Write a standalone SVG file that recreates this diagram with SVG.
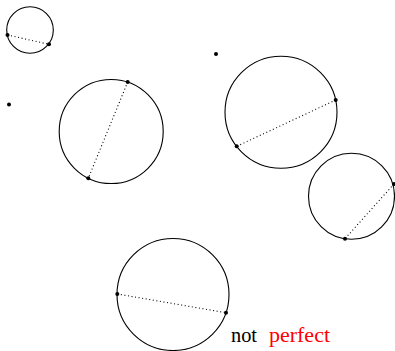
<svg xmlns="http://www.w3.org/2000/svg" width="395" height="351" viewBox="0 0 395 351">
<style>
.c{fill:none;stroke:#000;stroke-width:1.1}
.d{stroke:#000;stroke-width:1.1;stroke-dasharray:1 2.6}
.p{fill:#000}
.t{font-family:'Liberation Serif','DejaVu Serif',serif;font-size:21px}
</style>
<rect width="395" height="351" fill="#fff"/>
<g id="connectors">
<line class="d" x1="7.5" y1="35" x2="49" y2="44.3"/>
<line class="d" x1="127.7" y1="82" x2="88.3" y2="178.3"/>
<line class="d" x1="335.7" y1="100" x2="236.7" y2="146.3"/>
<line class="d" x1="394" y1="184" x2="345" y2="238.7"/>
<line class="d" x1="117.3" y1="294" x2="226" y2="312.7"/>
</g>
<g id="circle1"><circle class="c" cx="30" cy="30" r="23.3"/><circle class="p" cx="7.5" cy="35" r="2"/><circle class="p" cx="49" cy="44.3" r="2"/></g>
<g id="circle2"><circle class="c" cx="111.2" cy="131.5" r="52"/><circle class="p" cx="127.7" cy="82" r="2"/><circle class="p" cx="88.3" cy="178.3" r="2"/></g>
<g id="circle3"><circle class="c" cx="281" cy="112.3" r="56"/><circle class="p" cx="335.7" cy="100" r="2"/><circle class="p" cx="236.7" cy="146.3" r="2"/></g>
<g id="circle4"><circle class="c" cx="351.5" cy="196.3" r="43"/><circle class="p" cx="394" cy="184" r="2"/><circle class="p" cx="345" cy="238.7" r="2"/></g>
<g id="circle5"><circle class="c" cx="173" cy="294.5" r="56"/><circle class="p" cx="117.3" cy="294" r="2"/><circle class="p" cx="226" cy="312.7" r="2"/></g>
<g id="dot1"><circle class="p" cx="216" cy="54" r="2"/></g>
<g id="dot2"><circle class="p" cx="9" cy="104.5" r="2"/></g>
<g id="label">
<text class="t" font-family="Liberation Serif, serif" x="231" y="341.7" fill="#000" textLength="26" lengthAdjust="spacingAndGlyphs">not</text>
<text class="t" font-family="Liberation Serif, serif" x="269" y="341.7" fill="#ff0000" textLength="61" lengthAdjust="spacingAndGlyphs">perfect</text>
</g>
</svg>
